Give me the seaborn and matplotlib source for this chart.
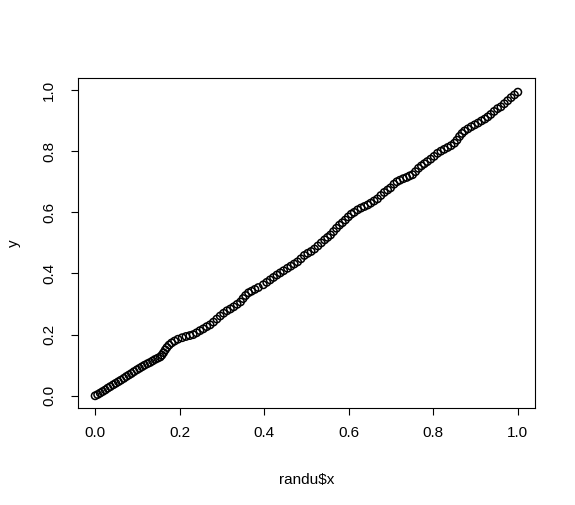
import pandas as pd
import seaborn as sns
import matplotlib
matplotlib.use("Agg")
import matplotlib.pyplot as plt

# values (randu$x vs y)
x_vals = [0.000, 0.006, 0.012, 0.018, 0.024, 0.030, 0.036, 0.043, 0.049, 0.055,
          0.061, 0.068, 0.074, 0.080, 0.086, 0.092, 0.099, 0.105, 0.111, 0.117,
          0.124, 0.130, 0.136, 0.142, 0.148, 0.154, 0.158, 0.162, 0.166, 0.170,
          0.175, 0.181, 0.188, 0.196, 0.206, 0.215, 0.224, 0.232, 0.240, 0.248,
          0.256, 0.264, 0.272, 0.280, 0.288, 0.296, 0.304, 0.312, 0.320, 0.328,
          0.336, 0.344, 0.350, 0.356, 0.363, 0.370, 0.378, 0.386, 0.398, 0.406,
          0.414, 0.422, 0.430, 0.438, 0.446, 0.455, 0.463, 0.471, 0.479, 0.487,
          0.495, 0.503, 0.511, 0.519, 0.527, 0.535, 0.543, 0.550, 0.557, 0.564,
          0.571, 0.578, 0.585, 0.592, 0.599, 0.606, 0.613, 0.621, 0.629, 0.637,
          0.645, 0.652, 0.660, 0.668, 0.676, 0.684, 0.692, 0.699, 0.707, 0.714,
          0.721, 0.729, 0.737, 0.744, 0.751, 0.758, 0.765, 0.772, 0.779, 0.786,
          0.794, 0.802, 0.810, 0.818, 0.826, 0.834, 0.842, 0.850, 0.856, 0.862,
          0.868, 0.874, 0.882, 0.890, 0.898, 0.906, 0.914, 0.922, 0.929, 0.936,
          0.944, 0.952, 0.960, 0.968, 0.976, 0.984, 0.992, 1.000]
y_vals = [0.000, 0.004, 0.009, 0.014, 0.019, 0.025, 0.030, 0.036, 0.041, 0.046,
          0.051, 0.057, 0.063, 0.068, 0.073, 0.079, 0.085, 0.090, 0.095, 0.100,
          0.105, 0.109, 0.114, 0.119, 0.123, 0.127, 0.133, 0.141, 0.150, 0.158,
          0.166, 0.173, 0.179, 0.185, 0.190, 0.194, 0.197, 0.200, 0.206, 0.213,
          0.219, 0.226, 0.232, 0.241, 0.251, 0.261, 0.270, 0.278, 0.284, 0.291,
          0.299, 0.307, 0.318, 0.328, 0.337, 0.342, 0.348, 0.354, 0.363, 0.371,
          0.379, 0.387, 0.395, 0.402, 0.409, 0.417, 0.424, 0.431, 0.438, 0.448,
          0.459, 0.466, 0.472, 0.480, 0.490, 0.500, 0.510, 0.518, 0.526, 0.537,
          0.548, 0.558, 0.566, 0.575, 0.585, 0.594, 0.600, 0.608, 0.614, 0.619,
          0.624, 0.630, 0.637, 0.644, 0.655, 0.665, 0.673, 0.680, 0.692, 0.700,
          0.705, 0.710, 0.714, 0.719, 0.723, 0.733, 0.744, 0.752, 0.759, 0.766,
          0.774, 0.783, 0.793, 0.800, 0.806, 0.812, 0.818, 0.826, 0.836, 0.848,
          0.858, 0.866, 0.873, 0.880, 0.886, 0.892, 0.899, 0.905, 0.912, 0.920,
          0.930, 0.939, 0.945, 0.955, 0.965, 0.975, 0.984, 0.993]
ticks = [0.0, 0.2, 0.4, 0.6, 0.8, 1.0]
tick_labels = ["0.0", "0.2", "0.4", "0.6", "0.8", "1.0"]

data = pd.DataFrame({"randu$x": x_vals, "y": y_vals})

sns.set_style("ticks")
plt.rcParams["font.family"] = ["Liberation Sans", "DejaVu Sans"]

fig = plt.figure(figsize=(5.75, 5.05), dpi=100)
ax = fig.add_axes([0.136, 0.192, 0.794, 0.654])

sns.scatterplot(data=data, x="randu$x", y="y", ax=ax, marker="o", s=28,
                facecolors="none", edgecolor="black", linewidth=1.1)

ax.set_xlim(-0.04, 1.04)
ax.set_ylim(-0.04, 1.04)
ax.set_xticks(ticks)
ax.set_xticklabels(tick_labels)
ax.set_yticks(ticks)
ax.set_yticklabels(tick_labels, rotation=90, va="center")
ax.tick_params(axis="both", direction="out", length=5, width=0.8,
               color="black", labelcolor="black", labelsize=11)
ax.tick_params(axis="x", pad=8)
ax.tick_params(axis="y", pad=11)
for s in ax.spines.values():
    s.set_visible(True)
    s.set_color("black")
    s.set_linewidth(0.8)

ax.set_xlabel("randu$x", fontsize=11, color="black", labelpad=24)
ax.set_ylabel("y", fontsize=11, color="black", labelpad=15)

fig.savefig("out.png", dpi=100, facecolor="white")
